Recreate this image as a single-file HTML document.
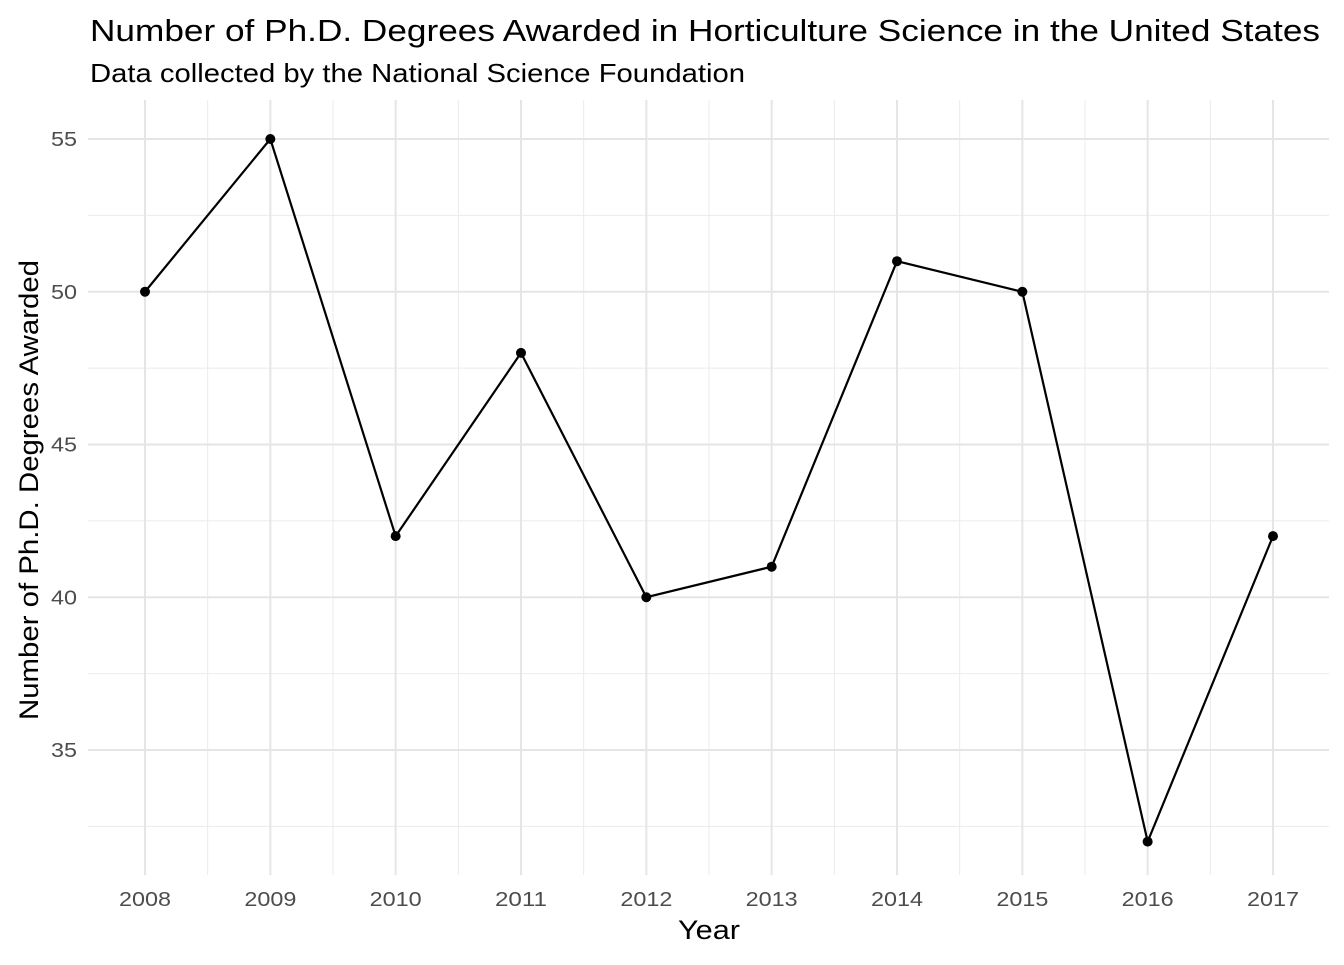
<!DOCTYPE html>
<html><head><meta charset="utf-8"><style>
body{margin:0;background:#fff;font-family:"Liberation Sans",Arial,sans-serif}
svg text{font-family:"Liberation Sans",Arial,sans-serif}
</style></head><body>
<svg id="chart" width="1344" height="960" xmlns="http://www.w3.org/2000/svg">
<rect width="1344" height="960" fill="#fff"/>
<text x="90" y="41" font-size="31" textLength="1230" lengthAdjust="spacingAndGlyphs" fill="#000">Number of Ph.D. Degrees Awarded in Horticulture Science in the United States</text>
<text x="90" y="82" font-size="26" textLength="655" lengthAdjust="spacingAndGlyphs" fill="#000">Data collected by the National Science Foundation</text>
<g id="grid"></g>
<g id="ticks"></g>
<g id="marks"></g>
<text x="709" y="939" font-size="27" textLength="62" lengthAdjust="spacingAndGlyphs" text-anchor="middle" fill="#000">Year</text>
<text transform="translate(38,490) rotate(-90)" font-size="27" textLength="460" lengthAdjust="spacingAndGlyphs" text-anchor="middle" fill="#000">Number of Ph.D. Degrees Awarded</text>
</svg>
<script>
const years=[2008,2009,2010,2011,2012,2013,2014,2015,2016,2017];
const degrees=[50,55,42,48,40,41,51,50,32,42];
const yTicks=[35,40,45,50,55];
const yMinor=[32.5,37.5,42.5,47.5,52.5];
const NS="http://www.w3.org/2000/svg";
const x=v=>145+(v-2008)*125.333;
const y=v=>750-(v-35)*30.55;
const L=88,R=1329,T=100,B=875;
function mk(tag,attrs,parent){const e=document.createElementNS(NS,tag);for(const k in attrs)e.setAttribute(k,attrs[k]);parent.appendChild(e);return e;}
const grid=document.getElementById('grid'),ticks=document.getElementById('ticks'),marks=document.getElementById('marks');
yMinor.forEach(v=>{const l=mk('line',{x1:L,x2:R,y1:y(v),y2:y(v),stroke:'#ebebeb','stroke-width':1},grid);

});
for(let i=0;i<years.length-1;i++){const xv=x(years[i]+0.5);const l=mk('line',{x1:xv,x2:xv,y1:T,y2:B,stroke:'#ebebeb','stroke-width':1},grid);

}
yTicks.forEach(v=>{const l=mk('line',{x1:L,x2:R,y1:y(v),y2:y(v),stroke:'#e5e5e5','stroke-width':2},grid);


const t=mk('text',{x:77,y:y(v)+7,'font-size':20,'text-anchor':'end',fill:'#4d4d4d',textLength:26,lengthAdjust:'spacingAndGlyphs'},ticks);t.textContent=v;

});
years.forEach(v=>{const l=mk('line',{x1:x(v),x2:x(v),y1:T,y2:B,stroke:'#e5e5e5','stroke-width':2},grid);


const t=mk('text',{x:x(v),y:906,'font-size':20,'text-anchor':'middle',fill:'#4d4d4d',textLength:52,lengthAdjust:'spacingAndGlyphs'},ticks);t.textContent=v;

});
const p=mk('polyline',{points:years.map((v,i)=>x(v)+','+y(degrees[i])).join(' '),fill:'none',stroke:'#000','stroke-width':2.2},marks);


years.forEach((v,i)=>{const c=mk('circle',{cx:x(v),cy:y(degrees[i]),r:5,fill:'#000'},marks);

});
</script>
</body></html>
